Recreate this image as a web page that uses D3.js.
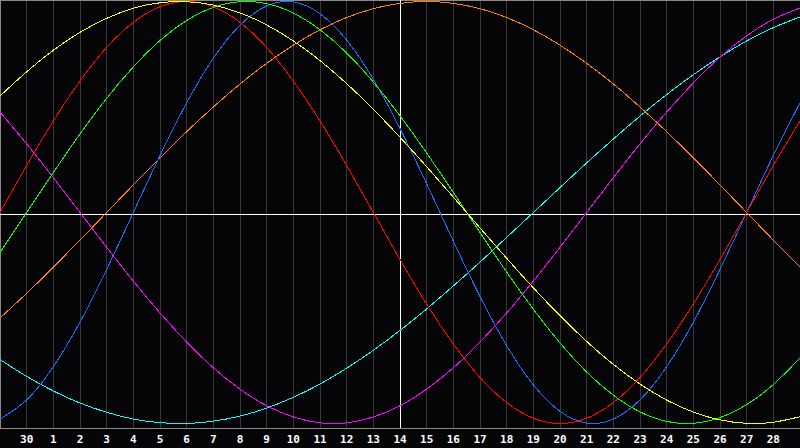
<!DOCTYPE html>
<html>
<head>
<meta charset="utf-8">
<script src="https://cdn.jsdelivr.net/npm/d3@7"></script>
<style>
  html, body { margin: 0; padding: 0; background: #050508; }
  svg { display: block; }
</style>
</head>
<body>
<svg id="chart" width="800" height="448"></svg>
<script>
// Day labels for grid columns 1..29 (columns 0 and 30 unlabeled)
const dayLabels = ["30","1","2","3","4","5","6","7","8","9","10","11","12","13","14","15","16","17","18","19","20","21","22","23","24","25","26","27","28"];
const dayIndex = d3.range(0, 31); // columns 0..30

// Series values (percent, -100..100) at each day column 0..30
const blueValues    = [-97.9,-88.8,-73.1,-52.0,-27.0,0,27.0,52.0,73.1,88.8,97.9,99.8,94.2,81.7,63.1,39.8,13.6,-13.6,-39.8,-63.1,-81.7,-94.2,-99.8,-97.9,-88.8,-73.1,-52.0,-27.0,0,27.0,52.0];
const redValues     = [0,22.3,43.4,62.3,78.2,90.1,97.5,100,97.5,90.1,78.2,62.3,43.4,22.3,0,-22.3,-43.4,-62.3,-78.2,-90.1,-97.5,-100,-97.5,-90.1,-78.2,-62.3,-43.4,-22.3,0,22.3,43.4];
const greenValues   = [-18.9,0,18.9,37.2,54.1,69.0,81.5,91.0,97.2,99.9,99.0,94.5,86.6,75.6,61.8,45.8,28.2,9.5,-9.5,-28.2,-45.8,-61.8,-75.6,-86.6,-94.5,-99.0,-99.9,-97.2,-91.0,-81.5,-69.0];
const magentaValues = [47.6,32.5,16.5,0,-16.5,-32.5,-47.6,-61.4,-73.6,-83.7,-91.6,-96.9,-99.7,-99.7,-96.9,-91.6,-83.7,-73.6,-61.4,-47.6,-32.5,-16.5,0,16.5,32.5,47.6,61.4,73.6,83.7,91.6,96.9];
const yellowValues  = [55.2,66.7,76.9,85.4,92.0,96.8,99.4,99.9,98.3,94.6,88.9,81.3,72.0,61.1,48.9,35.7,21.7,7.3,-7.3,-21.7,-35.7,-48.9,-61.1,-72.0,-81.3,-88.9,-94.6,-98.3,-99.9,-99.4,-96.8];
const orangeValues  = [-50.0,-38.3,-25.9,-13.1,0,13.1,25.9,38.3,50.0,60.9,70.7,79.3,86.6,92.4,96.6,99.1,100,99.1,96.6,92.4,86.6,79.3,70.7,60.9,50.0,38.3,25.9,13.1,0,-13.1,-25.9];
const cyanValues    = [-69.7,-77.7,-84.6,-90.3,-94.7,-97.9,-99.6,-100,-98.9,-96.5,-92.7,-87.6,-81.3,-73.8,-65.3,-55.9,-45.7,-34.8,-23.5,-11.8,0,11.8,23.5,34.8,45.7,55.9,65.3,73.8,81.3,87.6,92.7];

const seriesList = [
  { name: "cyan",    values: cyanValues,    color: "#00ffff" },
  { name: "orange",  values: orangeValues,  color: "#ff8000" },
  { name: "magenta", values: magentaValues, color: "#ff00ff" },
  { name: "blue",    values: blueValues,    color: "#1a6cff" },
  { name: "green",   values: greenValues,   color: "#00ff00" },
  { name: "red",     values: redValues,     color: "#ff0000" },
  { name: "yellow",  values: yellowValues,  color: "#ffff00" }
];

const svg = d3.select("#chart");
const W = 800, H = 448, plotBottom = 428;

const x = d3.scaleLinear().domain([0, 30]).range([0, 800]);
const y = d3.scaleLinear().domain([-100, 100]).range([423.5, 1.5]);

svg.append("rect").attr("x", 0).attr("y", 0).attr("width", W).attr("height", H).attr("fill", "#050508");

// vertical day grid
svg.append("g").selectAll("line")
  .data(d3.range(1, 30))
  .join("line")
  .attr("x1", d => Math.floor(x(d)) + 0.5)
  .attr("x2", d => Math.floor(x(d)) + 0.5)
  .attr("y1", 0)
  .attr("y2", plotBottom)
  .attr("stroke", "#383838")
  .attr("stroke-width", 1)
  .attr("shape-rendering", "crispEdges");

// border (top, left, bottom)
const border = svg.append("g").attr("stroke", "#8a8a8a").attr("stroke-width", 1).attr("shape-rendering", "crispEdges");
border.append("line").attr("x1", 0).attr("x2", W).attr("y1", 0.5).attr("y2", 0.5);
border.append("line").attr("x1", 0.5).attr("x2", 0.5).attr("y1", 0).attr("y2", plotBottom);
border.append("line").attr("x1", 0).attr("x2", W).attr("y1", plotBottom + 0.5).attr("y2", plotBottom + 0.5);

// center axes (white)
svg.append("line")
  .attr("x1", 0).attr("x2", W)
  .attr("y1", 214.5).attr("y2", 214.5)
  .attr("stroke", "#ffffff").attr("stroke-width", 1).attr("shape-rendering", "crispEdges");
svg.append("line")
  .attr("x1", x(15) + 0.5).attr("x2", x(15) + 0.5)
  .attr("y1", 0).attr("y2", plotBottom)
  .attr("stroke", "#ffffff").attr("stroke-width", 1).attr("shape-rendering", "crispEdges");

// curves
const line = d3.line()
  .x((d, i) => x(dayIndex[i]))
  .y(d => y(d))
  .curve(d3.curveNatural);

svg.append("g").selectAll("path")
  .data(seriesList)
  .join("path")
  .attr("d", d => line(d.values))
  .attr("fill", "none")
  .attr("stroke", d => d.color)
  .attr("stroke-width", 1)
  .attr("shape-rendering", "crispEdges");

// day labels
svg.append("g").selectAll("text")
  .data(dayLabels)
  .join("text")
  .attr("x", (d, i) => x(i + 1))
  .attr("y", 443)
  .attr("text-anchor", "middle")
  .attr("fill", "#ffffff")
  .attr("font-family", "'DejaVu Sans Mono', monospace")
  .attr("font-weight", "bold")
  .attr("font-size", "11px")
  .text(d => d);
</script>
</body>
</html>
